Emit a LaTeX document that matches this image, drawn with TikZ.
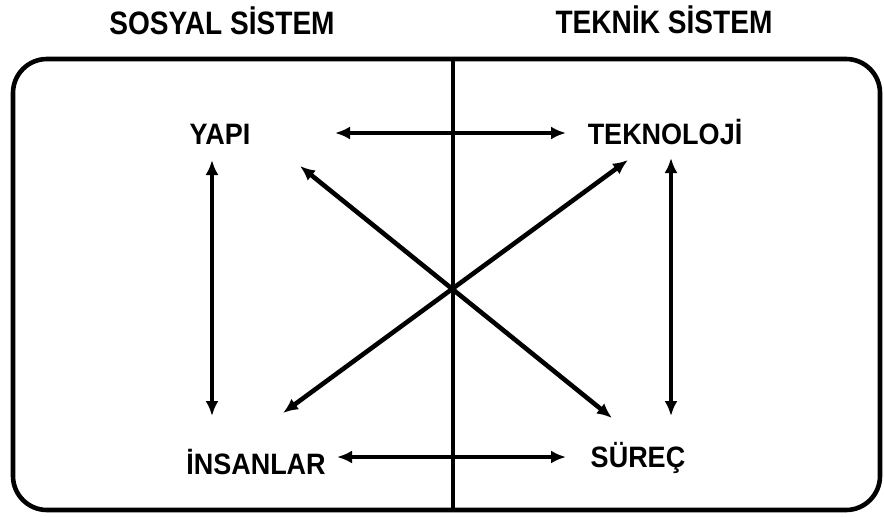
\documentclass[tikz,border=0pt]{standalone}
\usepackage{fontspec}
\setmainfont{Liberation Sans}
\usetikzlibrary{arrows.meta}
\newcommand{\lblt}[1]{\scalebox{1.08}[1.18]{#1}}
\newcommand{\headt}[1]{\scalebox{1.04}[1.2]{#1}}
\begin{document}
\begin{tikzpicture}[x=1pt,y=-1pt,
  lbl/.style={font=\bfseries\fontsize{25}{28}\selectfont, inner sep=0pt},
  head/.style={font=\bfseries\fontsize{27}{30}\selectfont, inner sep=0pt},
  arr/.style={line width=4.6pt, {Latex[length=15pt,width=13pt]}-{Latex[length=15pt,width=13pt]}}]
\useasboundingbox (0,0) rectangle (884,517);
\node[head] (hs) at (222,21) {\headt{SOSYAL SİSTEM}};
\node[head] (ht) at (664,20) {\headt{TEKNİK SİSTEM}};
\draw[line width=4.6pt, rounded corners=34pt] (13,59) rectangle (880,510);
\draw[line width=4.6pt] (453,59) -- (453,510);
\node[lbl] (yapi) at (220,134) {\lblt{YAPI}};
\node[lbl] (tek) at (665,132) {\lblt{TEKNOLOJİ}};
\node[lbl] (ins) at (256,462) {\lblt{İNSANLAR}};
\node[lbl] (sur) at (638,458) {\lblt{SÜREÇ}};
\coordinate (a1) at (335,133); \coordinate (a2) at (566,133);
\coordinate (b1) at (337,457); \coordinate (b2) at (566,457);
\coordinate (c1) at (212,160); \coordinate (c2) at (212,416);
\coordinate (d1) at (671,158); \coordinate (d2) at (671,416);
\coordinate (e1) at (300,166); \coordinate (e2) at (612,418);
\coordinate (f1) at (283,413); \coordinate (f2) at (628,160);
\draw[arr] (a1) -- (a2);
\draw[arr] (b1) -- (b2);
\draw[arr] (c1) -- (c2);
\draw[arr] (d1) -- (d2);
\draw[arr] (e1) -- (e2);
\draw[arr] (f1) -- (f2);
\end{tikzpicture}
\end{document}
